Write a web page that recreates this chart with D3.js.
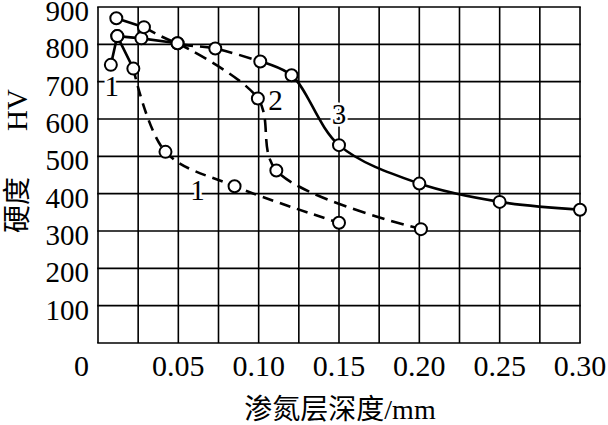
<!DOCTYPE html>
<html lang="zh">
<head>
<meta charset="utf-8">
<title>渗氮层深度与硬度</title>
<script src="https://cdn.jsdelivr.net/npm/d3@7"></script>
<style>
  body { margin: 0; background: #fff; }
  text { font-family: "Liberation Serif", "Noto Sans CJK SC", serif; fill: #000; }
</style>
</head>
<body>
<div id="chart"></div>
<script>
// values (depth mm, hardness HV)
var curve1 = [[0.008, 745], [0.012, 822], [0.022, 735], [0.042, 512], [0.085, 420], [0.150, 322]];
var curve2 = [[0.012, 822], [0.027, 816], [0.0495, 803], [0.0995, 655], [0.111, 462], [0.201, 305]];
var curve3 = [[0.0114, 870], [0.0286, 846], [0.0495, 803], [0.073, 789], [0.101, 754],
              [0.1205, 717], [0.150, 530], [0.200, 427], [0.250, 378], [0.300, 357]];

var xTicks = [0.05, 0.10, 0.15, 0.20, 0.25, 0.30];
var xTickLabels = ["0.05", "0.10", "0.15", "0.20", "0.25", "0.30"];
var xGrid = [0, 0.025, 0.05, 0.075, 0.10, 0.125, 0.15, 0.175, 0.20, 0.225, 0.25, 0.275, 0.30];
var yTicks = [100, 200, 300, 400, 500, 600, 700, 800, 900];
var yGrid = [0, 100, 200, 300, 400, 500, 600, 700, 800, 900];

// curve labels [text, depth, hardness]
var curveLabels = [["1", 0.0085, 690], ["1", 0.062, 410], ["2", 0.1105, 650], ["3", 0.150, 615]];

var W = 608, H = 425;
var svg = d3.select("#chart").append("svg")
    .attr("width", W)
    .attr("height", H);

var x = d3.scaleLinear().domain([0, 0.3]).range([98, 580]);
var y = d3.scaleLinear().domain([0, 900]).range([343, 7]);

// grid
svg.append("g").selectAll("line").data(xGrid).enter().append("line")
    .attr("x1", function(d){ return x(d); })
    .attr("x2", function(d){ return x(d); })
    .attr("y1", y(0)).attr("y2", y(900))
    .style("stroke", "#000").style("stroke-width", 1.6);
svg.append("g").selectAll("line").data(yGrid).enter().append("line")
    .attr("x1", x(0) - 0.8).attr("x2", x(0.3) + 0.8)
    .attr("y1", function(d){ return y(d); })
    .attr("y2", function(d){ return y(d); })
    .style("stroke", "#000").style("stroke-width", 1.6);

// tick labels
svg.append("g").selectAll("text").data(yTicks).enter().append("text")
    .attr("x", 89)
    .attr("y", function(d){ return y(d) + 14; })
    .attr("text-anchor", "end")
    .style("font-size", "29px")
    .text(function(d){ return d; });
svg.append("g").selectAll("text").data(xTicks).enter().append("text")
    .attr("x", function(d){ return x(d); })
    .attr("y", 376)
    .attr("text-anchor", "middle")
    .style("font-size", "30px")
    .text(function(d, i){ return xTickLabels[i]; });
svg.append("text")
    .attr("x", 89).attr("y", 376)
    .attr("text-anchor", "end")
    .style("font-size", "30px")
    .text("0");

// axis titles
svg.append("text")
    .attr("x", 340).attr("y", 419)
    .attr("text-anchor", "middle")
    .style("font-size", "28px")
    .text("渗氮层深度/mm");
svg.append("text")
    .attr("transform", "translate(27,205) rotate(-90)")
    .attr("text-anchor", "middle")
    .style("font-size", "28px")
    .text("硬度");
svg.append("text")
    .attr("transform", "translate(27,110) rotate(-90)")
    .attr("text-anchor", "middle")
    .style("font-size", "29px")
    .text("HV");

// curves: straight solid start, then dashed / solid smooth parts
var straight = d3.line().x(function(d){ return x(d[0]); }).y(function(d){ return y(d[1]); });
var smooth = d3.line().curve(d3.curveCatmullRom.alpha(0.5))
    .x(function(d){ return x(d[0]); }).y(function(d){ return y(d[1]); });

var pieces = [
    {pts: curve1.slice(0, 3), line: straight, dash: null},
    {pts: curve1.slice(2), line: smooth, dash: "11,7"},
    {pts: curve2.slice(0, 3), line: straight, dash: null},
    {pts: curve2.slice(2), line: smooth, dash: "13,7"},
    {pts: curve3.slice(0, 2), line: straight, dash: null},
    {pts: curve3.slice(1, 5), line: smooth, dash: "13,7"},
    {pts: curve3.slice(4), line: smooth, dash: null}
];
pieces.forEach(function(p){
    svg.append("path")
        .attr("d", p.line(p.pts))
        .style("fill", "none")
        .style("stroke", "#000")
        .style("stroke-width", 2.6)
        .style("stroke-dasharray", p.dash);
});

// labels with white halo
svg.append("g").selectAll("text").data(curveLabels).enter().append("text")
    .attr("x", function(d){ return x(d[1]); })
    .attr("y", function(d){ return y(d[2]); })
    .attr("dy", "0.35em")
    .attr("text-anchor", "middle")
    .style("font-size", "29px")
    .style("stroke", "#fff").style("stroke-width", 5)
    .style("paint-order", "stroke")
    .text(function(d){ return d[0]; });

// markers
[curve1, curve2, curve3].forEach(function(c){
    svg.append("g").selectAll("circle").data(c).enter().append("circle")
        .attr("cx", function(d){ return x(d[0]); })
        .attr("cy", function(d){ return y(d[1]); })
        .attr("r", 6)
        .style("fill", "#fff")
        .style("stroke", "#000")
        .style("stroke-width", 2);
});
</script>
</body>
</html>
